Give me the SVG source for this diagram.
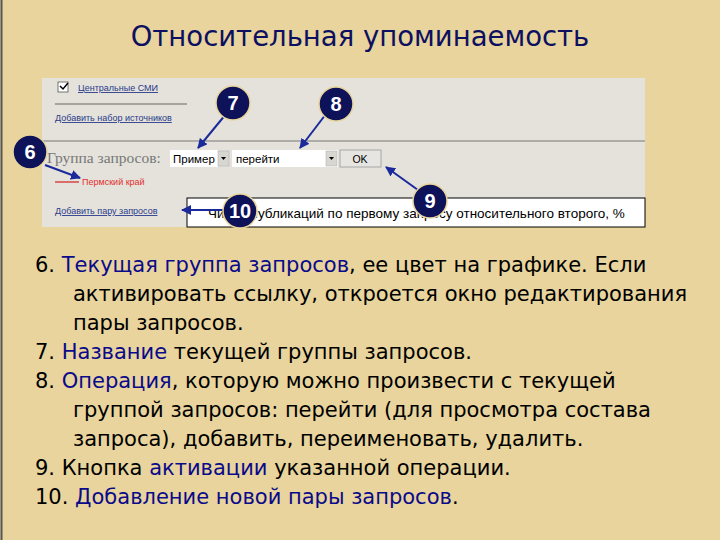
<svg xmlns="http://www.w3.org/2000/svg" width="720" height="540" viewBox="0 0 720 540">
<style>
.b{font-family:"DejaVu Sans",Verdana,sans-serif;font-size:21px;fill:#000}
.h{fill:#0a0a8a}
.s{font-family:"Liberation Sans",Arial,sans-serif;font-size:9px;fill:#2a3a8a;text-decoration:underline}
.n{fill:#0d1259;stroke:#e9d59c;stroke-width:1.5}
.nt{font-family:"Liberation Sans",Arial,sans-serif;font-weight:bold;font-size:20px;fill:#fff;text-anchor:middle}
.a{stroke:#1a2a9a;stroke-width:2;fill:none;marker-end:url(#m)}
</style>
<defs><marker id="m" viewBox="0 0 10 10" refX="9" refY="5" markerWidth="5" markerHeight="5" orient="auto"><path d="M0,0L10,5L0,10z" fill="#1a2a9a"/></marker></defs>
<rect width="720" height="540" fill="#e8d49c"/>
<line x1="1.5" y1="0" x2="1.5" y2="540" stroke="#555" stroke-width="2"/>
<text x="360" y="46" text-anchor="middle" font-family="'DejaVu Sans',Verdana,sans-serif" font-size="27.5" fill="#0d1060">Относительная упоминаемость</text>
<g id="screenshot">
<rect x="42" y="78" width="603" height="149" fill="#e4e2db"/>
<line x1="42" y1="141" x2="645" y2="141" stroke="#777" stroke-width="1"/>
<rect x="58" y="82" width="10" height="10" fill="#fff" stroke="#555" stroke-width="0.8"/>
<path d="M60,86l3,3l5,-6" stroke="#000" stroke-width="1.5" fill="none"/>
<text x="78" y="91" class="s">Центральные  СМИ</text>
<line x1="55" y1="104" x2="187" y2="104" stroke="#666"/>
<text x="55" y="121" class="s">Добавить  набор  источников</text>
<text x="47" y="163" font-family="'Liberation Serif',serif" font-size="15.5" fill="#777">Группа запросов:</text>
<rect x="170" y="150" width="48" height="17" fill="#fff"/>
<text x="173" y="163" font-family="'Liberation Sans',Arial,sans-serif" font-size="11.5">Пример</text>
<rect x="218" y="151" width="11" height="15" fill="#d8d6d0" stroke="#aaa" stroke-width="0.5"/>
<path d="M221,157h5l-2.5,3z" fill="#000"/>
<rect x="232" y="150" width="106" height="17" fill="#fff"/>
<text x="236" y="163" font-family="'Liberation Sans',Arial,sans-serif" font-size="11.5">перейти</text>
<rect x="326" y="151" width="11" height="15" fill="#d8d6d0" stroke="#aaa" stroke-width="0.5"/>
<path d="M329,157h5l-2.5,3z" fill="#000"/>
<rect x="340" y="150" width="41" height="17" fill="#e6e5e1" stroke="#999" stroke-width="0.8"/>
<text x="360" y="163" text-anchor="middle" font-family="'Liberation Sans',Arial,sans-serif" font-size="10.5">OK</text>
<line x1="55" y1="182" x2="79" y2="182" stroke="#d02020" stroke-width="1.2"/>
<text x="82" y="185" font-family="'Liberation Sans',Arial,sans-serif" font-size="9" fill="#e03030">Пермский  край</text>
<text x="55" y="214" class="s">Добавить  пару  запросов</text>
<rect x="187" y="198" width="458" height="29" fill="#fff" stroke="#000" stroke-width="1"/>
<text x="208" y="218" font-family="'Liberation Sans',Arial,sans-serif" font-size="13.5">Число публикаций по первому запросу относительного второго, %</text>
</g>
<g id="connectors">
<path class="a" d="M45,165L80,178"/>
<path class="a" d="M226,114L198,148"/>
<path class="a" d="M326,114L300,148"/>
<path class="a" d="M418,190L386,167"/>
<path class="a" d="M224,210L182,210"/>
</g>
<g id="n6"><circle class="n" cx="30" cy="152" r="17"/><text class="nt" x="30" y="159">6</text></g>
<g id="n7"><circle class="n" cx="233" cy="103" r="17"/><text class="nt" x="233" y="110">7</text></g>
<g id="n8"><circle class="n" cx="336" cy="104" r="17"/><text class="nt" x="336" y="111">8</text></g>
<g id="n9"><circle class="n" cx="430" cy="201" r="17"/><text class="nt" x="430" y="208">9</text></g>
<g id="n10"><circle class="n" cx="240" cy="211" r="17"/><text class="nt" x="240" y="218">10</text></g>
<g id="body" class="b">
<text x="35" y="272">6. <tspan class="h">Текущая группа запросов</tspan>, ее цвет на графике. Если</text>
<text x="73" y="301">активировать ссылку, откроется окно редактирования</text>
<text x="73" y="330">пары запросов.</text>
<text x="35" y="359">7. <tspan class="h">Название</tspan> текущей группы запросов.</text>
<text x="35" y="388">8. <tspan class="h">Операция</tspan>, которую можно произвести с текущей</text>
<text x="73" y="417">группой запросов: перейти (для просмотра состава</text>
<text x="73" y="446">запроса), добавить, переименовать, удалить.</text>
<text x="35" y="475">9. Кнопка <tspan class="h">активации</tspan> указанной операции.</text>
<text x="35" y="504">10. <tspan class="h">Добавление новой пары запросов</tspan>.</text>
</g>
</svg>
